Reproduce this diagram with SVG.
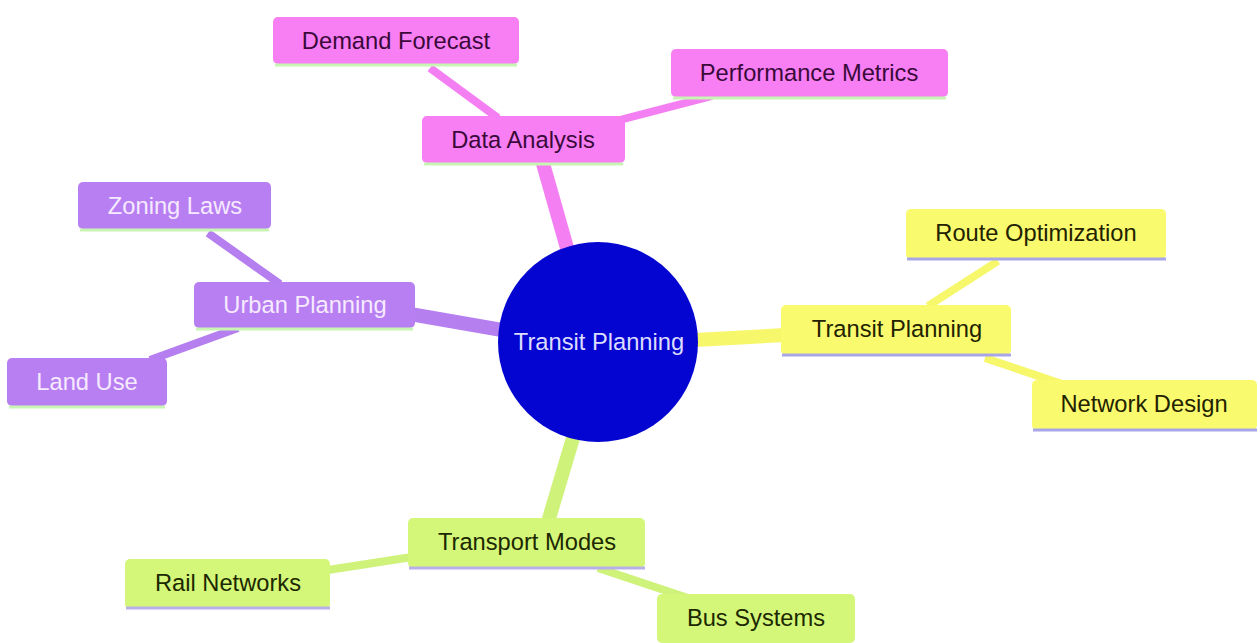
<svg xmlns="http://www.w3.org/2000/svg" width="1260" height="643" viewBox="0 0 1260 643">
<style>
text{font-family:"Liberation Sans",Arial,sans-serif;font-size:23.7px;text-anchor:middle}
.pk rect.b{fill:#f87ff3}.pk line.u{stroke:#c8f5b4}.pk text{fill:#3a0a3a}
.pu rect.b{fill:#b87ff2}.pu line.u{stroke:#c8f5b4}.pu text{fill:#f6eaff}
.ye rect.b{fill:#fafa6e}.ye line.u{stroke:#a8a6e8}.ye text{fill:#222200}
.gr rect.b{fill:#d4f77a}.gr line.u{stroke:#b8b0e8}.gr text{fill:#1c2800}
line.u{stroke-width:3}
.e{fill:none;stroke-linecap:butt}
.epk{stroke:#f47ff2}.epu{stroke:#b57ff0}.eye{stroke:#f7f76c}.egr{stroke:#cff27a}
.m{stroke-width:14}.l{stroke-width:8}
</style>
<rect width="1260" height="643" fill="#ffffff"/>
<g id="connectors">
<line class="e epk m" x1="567" y1="248" x2="542" y2="160"/>
<line class="e epk l" x1="430" y1="68" x2="498" y2="118"/>
<line class="e epk l" x1="612" y1="122" x2="712" y2="96"/>
<line class="e epu m" x1="502" y1="330" x2="410" y2="314"/>
<line class="e epu l" x1="208" y1="233" x2="280" y2="284"/>
<line class="e epu l" x1="150" y1="360" x2="238" y2="328"/>
<line class="e eye m" x1="695" y1="340" x2="785" y2="335"/>
<line class="e eye l" x1="928" y1="306" x2="998" y2="261"/>
<line class="e eye l" x1="985" y1="358" x2="1062" y2="384"/>
<line class="e egr m" x1="573" y1="438" x2="548" y2="522"/>
<line class="e egr l" x1="328" y1="570" x2="412" y2="557"/>
<line class="e egr l" x1="598" y1="568" x2="688" y2="598"/>
</g>
<g id="root">
<circle cx="598" cy="342" r="100" fill="#0505d2"/>
<text x="599" y="350" fill="#dcdcff">Transit Planning</text>
</g>
<g id="data-analysis" class="pk"><rect class="b" x="422" y="116" width="203" height="47" rx="5"/><line class="u" x1="424" y1="164" x2="623" y2="164"/><text x="523" y="148">Data Analysis</text></g>
<g id="demand-forecast" class="pk"><rect class="b" x="273" y="17" width="246" height="47" rx="5"/><line class="u" x1="275" y1="65" x2="517" y2="65"/><text x="396" y="49">Demand Forecast</text></g>
<g id="performance-metrics" class="pk"><rect class="b" x="671" y="49" width="277" height="48" rx="5"/><line class="u" x1="673" y1="98" x2="946" y2="98"/><text x="809" y="81">Performance Metrics</text></g>
<g id="urban-planning" class="pu"><rect class="b" x="194" y="282" width="221" height="46" rx="5"/><line class="u" x1="196" y1="329" x2="413" y2="329"/><text x="305" y="313">Urban Planning</text></g>
<g id="zoning-laws" class="pu"><rect class="b" x="78" y="182" width="193" height="47" rx="5"/><line class="u" x1="80" y1="230" x2="269" y2="230"/><text x="175" y="214">Zoning Laws</text></g>
<g id="land-use" class="pu"><rect class="b" x="7" y="358" width="160" height="48" rx="5"/><line class="u" x1="9" y1="407" x2="165" y2="407"/><text x="87" y="390">Land Use</text></g>
<g id="transit-planning" class="ye"><rect class="b" x="781" y="305" width="230" height="50" rx="5"/><line class="u" x1="782" y1="355" x2="1011" y2="355"/><text x="897" y="337">Transit Planning</text></g>
<g id="route-optimization" class="ye"><rect class="b" x="906" y="209" width="260" height="50" rx="5"/><line class="u" x1="907" y1="259" x2="1166" y2="259"/><text x="1036" y="241">Route Optimization</text></g>
<g id="network-design" class="ye"><rect class="b" x="1032" y="380" width="225" height="50" rx="5"/><line class="u" x1="1033" y1="430" x2="1257" y2="430"/><text x="1144" y="412">Network Design</text></g>
<g id="transport-modes" class="gr"><rect class="b" x="408" y="518" width="237" height="50" rx="5"/><line class="u" x1="409" y1="568" x2="645" y2="568"/><text x="527" y="550">Transport Modes</text></g>
<g id="rail-networks" class="gr"><rect class="b" x="125" y="559" width="205" height="50" rx="5"/><line class="u" x1="126" y1="608" x2="330" y2="608"/><text x="228" y="591">Rail Networks</text></g>
<g id="bus-systems" class="gr"><rect class="b" x="657" y="594" width="198" height="49" rx="5"/><text x="756" y="626">Bus Systems</text></g>
</svg>
